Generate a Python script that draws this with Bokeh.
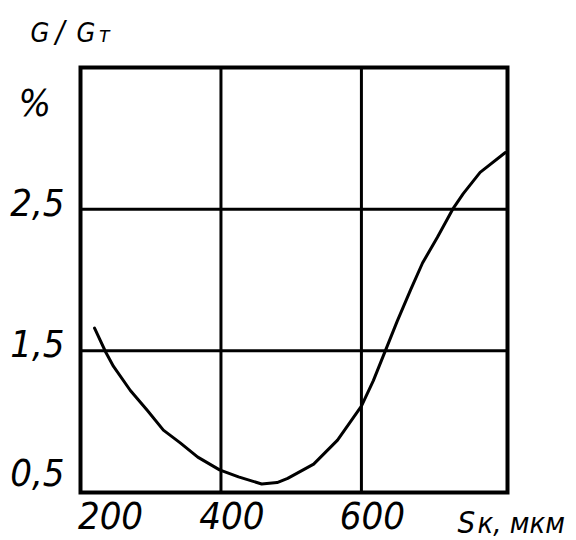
from bokeh.plotting import figure
from bokeh.models import Label, Range1d
from bokeh.embed import file_html
from bokeh.resources import INLINE

# Data
s_um = [220, 236, 247, 271, 295, 318, 342, 367, 398, 425, 458, 480, 495, 532, 566, 600, 617, 634, 651, 670, 687, 708, 730, 745, 769, 805]
g_pct = [1.66, 1.49, 1.39, 1.22, 1.08, 0.94, 0.85, 0.75, 0.66, 0.61, 0.56, 0.57, 0.60, 0.70, 0.87, 1.11, 1.29, 1.50, 1.71, 1.93, 2.12, 2.30, 2.50, 2.61, 2.76, 2.90]

x_ticks = [200, 400, 600]
x_tick_labels = ["200", "400", "600"]
y_ticks = [0.5, 1.5, 2.5]
y_tick_labels = ["0,5", "1,5", "2,5"]
x_lo, x_hi = 200, 808
y_lo, y_hi = 0.5, 3.5

W, H = 576, 540
# box position on the canvas (pixels)
BL, BR, BT, BB = 80, 507, 67, 492
kx = (x_hi - x_lo) / (BR - BL)
ky = (y_hi - y_lo) / (BB - BT)

FONT = "DejaVu Sans Condensed"
SHIFT = 0.37  # baseline correction, fraction of font size

p = figure(width=W, height=H, output_backend="svg", toolbar_location=None,
           x_range=Range1d(x_lo - BL * kx, x_hi + (W - BR) * kx),
           y_range=Range1d(y_lo - (H - BB) * ky, y_hi + BT * ky),
           min_border=0, min_border_left=0, min_border_right=0,
           min_border_top=0, min_border_bottom=0)
p.axis.visible = False
p.grid.visible = False
p.outline_line_color = None
p.background_fill_color = "white"
p.border_fill_color = "white"

# grid lines
p.segment(x0=x_ticks[1:], y0=[y_lo] * (len(x_ticks) - 1), x1=x_ticks[1:], y1=[y_hi] * (len(x_ticks) - 1),
          line_color="black", line_width=3)
p.segment(x0=[x_lo] * (len(y_ticks) - 1), y0=y_ticks[1:], x1=[x_hi] * (len(y_ticks) - 1), y1=y_ticks[1:],
          line_color="black", line_width=3)
# box
p.quad(left=[x_lo], right=[x_hi], bottom=[y_lo], top=[y_hi], fill_color=None,
       line_color="black", line_width=4, line_join="miter")

p.line(s_um, g_pct, line_color="black", line_width=3, line_join="round", line_cap="round")

TS = 38
# x tick labels
for i, (t, lab) in enumerate(zip(x_ticks, x_tick_labels)):
    p.add_layout(Label(x=t, y=y_lo, text=lab, text_font=FONT, text_font_style="italic",
                       text_font_size=f"{TS}px", text_align="center", text_baseline="alphabetic",
                       x_offset=30 if i == 0 else 11, y_offset=-37 + SHIFT * TS, text_color="black"))

# y tick labels
for i, (t, lab) in enumerate(zip(y_ticks, y_tick_labels)):
    p.add_layout(Label(x=x_lo, y=t, text=lab, text_font=FONT, text_font_style="italic",
                       text_font_size=f"{TS}px", text_align="right", text_baseline="alphabetic",
                       x_offset=-16, y_offset=(6 if i == 0 else -7) + SHIFT * TS, text_color="black"))

# axis titles (screen units from bottom-left)
def lab(x, y_base, txt, size):
    p.add_layout(Label(x=x, y=H - y_base + SHIFT * size, x_units="screen", y_units="screen", text=txt,
                       text_font=FONT, text_font_style="italic", text_font_size=f"{size}px",
                       text_align="left", text_baseline="alphabetic", text_color="black"))

lab(18, 117, "%", 38)
lab(30, 42, "G", 27)
lab(55, 42, "/", 30)
lab(76, 42, "G", 27)
lab(98, 42, "т", 22)
lab(457, 533, "S", 31)
lab(477, 533, "к, мкм", 29)

open("out.html", "w").write(file_html(p, INLINE))
